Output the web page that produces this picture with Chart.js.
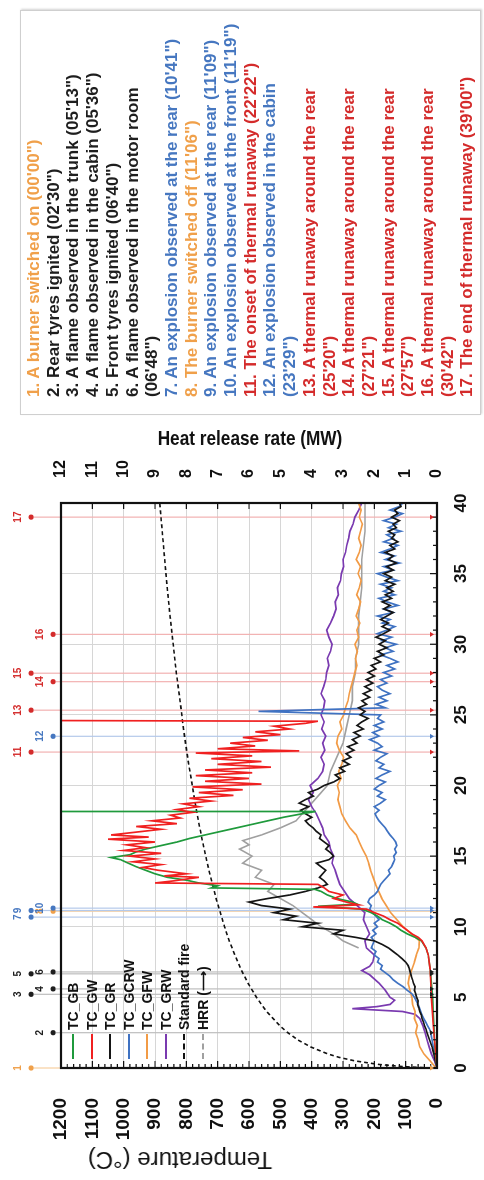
<!DOCTYPE html>
<html>
<head>
<meta charset="utf-8">
<script src="https://cdn.jsdelivr.net/npm/chart.js@4.4.1/dist/chart.umd.min.js"></script>
<style>
html, body { margin:0; padding:0; background:#fff; overflow:hidden; width:484px; height:1180px; }
/* the figure is laid out landscape (1180x484) and turned a quarter left */
#fig { position:absolute; left:0; top:0; width:1180px; height:484px; transform-origin:0 0;
       transform:translateY(1180px) rotate(-90deg); font-family:"Liberation Sans", Arial, sans-serif; }
#c { position:absolute; left:0; top:0; }
.ttl { position:absolute; white-space:nowrap; color:#111; }
#events { position:absolute; left:765px; top:20px; width:405px; height:461px; box-sizing:border-box;
          border:1px solid #cfcfcf; box-shadow:1px 1px 2px rgba(0,0,0,.18); background:#fff;
          padding:3px 0 0 17px; font-weight:bold; font-size:17px; line-height:19.7px; white-space:nowrap; }
#events .o { color:#f0a04a; } #events .k { color:#1e1e1e; }
#events .b { color:#4677c0; } #events .r { color:#d42b2b; }
#legend { position:absolute; left:121px; top:64px; font-weight:bold; font-size:14px; color:#111; }
#legend .row { display:flex; align-items:center; height:18.5px; }
#legend .sw { width:25px; height:0; border-top:2px solid; margin-right:4px; }
</style>
</head>
<body>
<div id="fig">
  <canvas id="c" width="770" height="484"></canvas>
  <div class="ttl" style="left:20px; top:180px; font-size:24px; transform:translate(-50%,-50%) rotate(-90deg);">Temperature (°C)</div>
  <div class="ttl" style="left:742px; top:250px; font-size:21px; font-weight:bold; transform:translate(-50%,-50%) rotate(90deg) scaleX(0.82);">Heat release rate (MW)</div>
  <div id="legend"></div>
  <div id="events">
    <div class="o">1. A burner switched on (00'00")</div>
    <div class="k">2. Rear tyres ignited (02'30")</div>
    <div class="k">3. A flame observed in the trunk (05'13")</div>
    <div class="k">4. A flame observed in the cabin (05'36")</div>
    <div class="k">5. Front tyres ignited (06'40")</div>
    <div class="k">6. A flame observed in the motor room</div>
    <div class="k">(06'48")</div>
    <div class="b">7. An explosion observed at the rear (10'41")</div>
    <div class="o">8. The burner switched off (11'06")</div>
    <div class="b">9. An explosion observed at the rear (11'09")</div>
    <div class="b">10. An explosion observed at the front (11'19")</div>
    <div class="r">11. The onset of thermal runaway (22'22")</div>
    <div class="b">12. An explosion observed in the cabin</div>
    <div class="b">(23'29")</div>
    <div class="r">13. A thermal runaway around the rear</div>
    <div class="r">(25'20")</div>
    <div class="r">14. A thermal runaway around the rear</div>
    <div class="r">(27'21")</div>
    <div class="r">15. A thermal runaway around the rear</div>
    <div class="r">(27'57")</div>
    <div class="r">16. A thermal runaway around the rear</div>
    <div class="r">(30'42")</div>
    <div class="r">17. The end of thermal runaway (39'00")</div>
  </div>
</div>
<script>
// time bases (min)
const minutesH = [
  0,0.5,1,1.5,2,2.5,3,3.5,4,4.5,
  5,5.5,6,6.5,7,7.5,8,8.5,9,9.5,
  10,10.5,11,11.5,12,12.5,13,13.5,14,14.5,
  15,15.5,16,16.5,17,17.5,18,18.5,19,19.5,
  20,20.5,21,21.5,22,22.5,23,23.5,24,24.5,
  25,25.5,26,26.5,27,27.5,28,28.5,29,29.5,
  30,30.5,31,31.5,32,32.5,33,33.5,34,34.5,
  35,35.5,36,36.5,37,37.5,38,38.5,39,39.5,
  40];
const minutesQ = [
  0,0.25,0.5,0.75,1,1.25,1.5,1.75,2,2.25,2.5,2.75,3,3.25,3.5,3.75,4,4.25,4.5,4.75,
  5,5.25,5.5,5.75,6,6.25,6.5,6.75,7,7.25,7.5,7.75,8,8.25,8.5,8.75,9,9.25,9.5,9.75,
  10,10.25,10.5,10.75,11,11.25,11.5,11.75,12,12.25,12.5,12.75,13,13.25,13.5,13.75,14,14.25,14.5,14.75,
  15,15.25,15.5,15.75,16,16.25,16.5,16.75,17,17.25,17.5,17.75,18,18.25,18.5,18.75,19,19.25,19.5,19.75,
  20,20.25,20.5,20.75,21,21.25,21.5,21.75,22,22.25,22.5,22.75,23,23.25,23.5,23.75,24,24.25,24.5,24.75,
  25,25.25,25.5,25.75,26,26.25,26.5,26.75,27,27.25,27.5,27.75,28,28.25,28.5,28.75,29,29.25,29.5,29.75,
  30,30.25,30.5,30.75,31,31.25,31.5,31.75,32,32.25,32.5,32.75,33,33.25,33.5,33.75,34,34.25,34.5,34.75,
  35,35.25,35.5,35.75,36,36.25,36.5,36.75,37,37.25,37.5,37.75,38,38.25,38.5,38.75,39,39.25,39.5,39.75,
  40];

// TC_GB (green) - fails at 18'09"
const gbMinutes = [0,1,2,3,4,5,6,7,8,8.5,9,9.25,9.5,9.75,10,10.25,10.5,10.75,11,11.25,11.45,11.6,11.75,
  12,12.25,12.5,12.65,12.75,12.9,13.1,13.3,13.5,13.75,14,14.25,14.5,14.75,14.9,15.1,15.3,15.5,15.75,
  16,16.25,16.5,16.75,17,17.25,17.5,17.75,18,18.15,18.16];
const gbTemp = [0,5,8,10,12,14,18,22,28,35,50,70,95,115,130,150,175,190,210,240,380,255,270,
  320,350,370,390,720,700,760,800,860,900,930,960,985,1010,1040,980,960,930,880,
  830,790,740,690,640,590,540,490,430,390,1250];

// TC_GW (red) - fails at 24'36"
const gwMinutes = [0,1,2,3,4,5,6,7,8,8.5,9,9.25,9.5,9.75,10,10.25,10.5,10.75,11,11.25,11.4,11.55,11.75,
  12,12.25,12.5,12.75,13,13.1,13.25,13.5,13.6,13.75,14,14.2,14.4,14.6,14.8,15,15.2,15.4,15.6,15.8,
  16,16.2,16.35,16.5,16.7,16.9,17.1,17.3,17.5,17.7,17.9,18.1,18.3,18.5,18.7,18.9,19.1,19.3,19.5,19.7,19.9,
  20.1,20.3,20.5,20.7,20.9,21.1,21.3,21.5,21.7,21.9,22.1,22.3,22.45,22.6,22.8,23,23.2,23.4,23.6,23.8,
  24,24.2,24.4,24.55,24.6];
const gwTemp = [0,4,8,12,15,18,20,22,28,35,48,60,80,95,110,125,150,170,200,225,395,250,290,
  330,300,345,360,380,900,840,760,870,800,890,940,880,970,900,980,880,1000,930,990,
  900,1050,920,1040,960,880,960,830,910,820,850,780,830,760,810,720,790,650,760,620,780,
  560,740,600,770,590,740,530,700,560,720,590,770,440,700,580,660,540,620,500,580,
  470,520,420,380,1250];

// TC_GR (black), quarter-minute readings
const grTemp = [
  0,2,5,8, 10,13,16,20, 24,28,32,35, 40,43,48,50, 55,58,62,60,
  65,68,72,70, 75,78,82,85, 88,92,100,112, 125,140,155,175, 200,260,330,300,
  430,380,490,450, 520,470,560,600, 540,470,420,380, 350,360,375,365, 355,370,385,345,
  330,340,355,345, 360,375,370,385, 395,410,420,400, 420,435,410,440, 420,395,410,380,
  360,330,310,325, 295,310,280,300, 275,290,265,285, 255,270,245,265, 235,255,240,220,
  245,230,250,225, 240,215,235,210, 230,205,225,200, 220,195,210,180, 200,170,190,160,
  185,165,195,170, 150,175,155,180, 160,140,170,150, 175,145,165,140, 160,135,165,145,
  170,140,160,130, 155,140,165,135, 150,125,145,135, 155,130,140,120, 145,125,135,115,
  120];

// TC_GCRW (blue), quarter-minute readings
const gcrwTemp = [
  0,2,4,6, 8,10,12,14, 16,18,20,24, 30,36,42,48, 52,56,60,66,
  72,80,95,108, 125,140,150,165, 180,175,190,185, 200,195,210,205, 200,210,195,205,
  190,200,185,195, 205,215,210,220, 215,200,190,185, 180,170,160,150, 155,145,140,135,
  138,130,135,128, 132,140,150,158, 165,175,185,192, 198,185,200,180, 165,190,175,200,
  185,165,195,175, 150,185,170,195, 180,160,200,175, 190,215,185,205, 175,200,170,190,
  180,570,165,195, 160,185,150,175, 190,160,180,145, 170,135,160,125, 150,180,140,165,
  130,175,145,190, 160,135,175,150, 190,140,170,125, 160,185,135,170, 145,180,125,160,
  190,140,170,120, 165,135,180,150, 125,170,140,160, 115,155,130,170, 135,110,150,120,
  110];

// TC_GFW (orange), half-minute readings
const gfwTemp = [
  3,22,42,55,60,68,63,72,70,78,
  80,86,92,88,80,72,66,58,56,82,
  108,128,148,162,176,186,196,204,212,218,
  226,238,248,258,278,292,304,310,316,312,
  318,306,314,304,298,312,320,316,304,310,
  298,292,284,280,274,268,262,256,260,254,
  262,250,256,246,258,250,244,256,248,242,
  252,244,258,248,242,250,244,238,248,242,
  250];

// TC_GRW (purple)
const grwMinutes = [0,0.5,1,1.5,2,2.5,3,3.5,3.8,4.0,4.2,4.35,4.5,4.8,5,5.5,6,6.3,6.6,6.9,7.2,7.5,
  8,8.5,9,9.5,10,10.5,11,11.5,12,12.5,13,13.5,14,14.5,15,15.5,16,16.5,17,17.5,
  18,18.5,19,19.5,20,20.5,21,21.5,22,22.5,23,23.5,24,24.5,25,25.5,26,26.5,27,27.5,
  28,28.5,29,29.5,30,30.5,31,31.5,32,32.5,33,33.5,34,34.5,35,35.5,36,36.5,37,37.5,
  38,38.5,39,39.5,40];
const grwTemp = [0,8,18,25,32,38,45,55,70,110,270,190,150,135,150,165,185,200,215,240,215,205,
  200,225,230,215,225,235,230,255,280,295,310,318,325,335,330,340,345,360,365,375,
  385,400,410,395,405,380,365,360,370,358,365,355,368,360,370,362,358,370,362,355,
  352,345,350,340,335,345,352,340,330,322,325,315,318,308,305,298,300,292,288,282,
  278,268,262,250,240];

// Standard fire curve
const isoMinutes = [0,0.1,0.25,0.5,0.75,1,1.5,2,2.5,3,4,5,6,7,8,9,10,12,14,16,18,20,22,24,26,28,30,32,34,36,38,40];
const isoTemp = [20,108,185,261,312,349,404,445,476,502,544,576,603,626,645,663,678,705,728,748,766,781,796,809,820,832,842,852,861,869,877,885];

// Heat release rate (MW, right axis)
const hrrMinutes = [8.5,9,9.5,10,10.5,11,11.5,12,12.5,13,13.5,14,14.5,15,15.5,15.8,16.1,16.5,
  17,17.5,18,18.5,19,19.5,20,21,22,23,24,25,26,27,28,29,30,32,34,36,38,40];
const hrrMW = [2.5,3.0,3.3,3.7,4.0,4.3,4.6,5.0,5.4,5.2,5.8,5.6,6.2,5.9,6.3,6.0,6.2,5.6,
  5.0,4.5,4.3,4.1,3.9,3.7,3.5,3.4,3.2,3.0,2.9,2.8,2.7,2.7,2.6,2.6,2.5,2.5,2.4,2.4,2.3,2.3];

// events 1-17
const eventNumbers = [1,2,3,4,5,6,7,8,9,10,11,12,13,14,15,16,17];
const eventMinutes = [0,2.5,5.217,5.6,6.667,6.8,10.683,11.1,11.15,11.317,22.367,23.483,25.333,27.35,27.95,30.7,39];
const eventGroups = ['orange','black','black','black','black','black','blue','orange','blue','blue','red','blue','red','red','red','red','red'];
const groupColor = {orange:'#f0a04a', black:'#1e1e1e', blue:'#4677c0', red:'#d42b2b'};
const groupLight = {orange:'#f7cf9f', black:'#bdbdbd', blue:'#b4c9ea', red:'#f2b1b1'};

function pairs(xs, ys) {
  const n = Math.min(xs.length, ys.length);
  const out = [];
  for (let i = 0; i < n; i++) out.push({x: xs[i], y: ys[i]});
  return out;
}

const series = [
  {label:'TC_GB', t:gbMinutes, v:gbTemp, color:'#1f9a3c'},
  {label:'TC_GW', t:gwMinutes, v:gwTemp, color:'#f02020'},
  {label:'TC_GR', t:minutesQ, v:grTemp, color:'#151515'},
  {label:'TC_GCRW', t:minutesQ, v:gcrwTemp, color:'#3f72c2'},
  {label:'TC_GFW', t:minutesH, v:gfwTemp, color:'#f29b46'},
  {label:'TC_GRW', t:grwMinutes, v:grwTemp, color:'#7a3ab0'}
];

// the legend inside the plot
const legendBox = document.getElementById('legend');
series.concat([{label:'Standard fire', color:'#111', dash:true}, {label:'HRR (\u27F6)', color:'#a0a0a0', dash:true}])
  .forEach(s => {
    const row = document.createElement('div');
    row.className = 'row';
    row.innerHTML = '<span class="sw" style="border-top:2px ' + (s.dash ? 'dashed' : 'solid') + ' ' + s.color + '"></span>' + s.label;
    legendBox.appendChild(row);
  });

// event lines under the curves, markers above the frame
const eventPlugin = {
  id: 'events',
  beforeDatasetsDraw(chart) {
    const {ctx, chartArea: a, scales} = chart;
    ctx.save();
    ctx.lineWidth = 1.2;
    eventMinutes.forEach((m, i) => {
      const px = scales.x.getPixelForValue(m);
      const dotY = eventNumbers[i] % 2 ? a.top - 30 : a.top - 8;
      ctx.strokeStyle = groupLight[eventGroups[i]];
      ctx.beginPath();
      ctx.moveTo(px, dotY);
      ctx.lineTo(px, a.bottom);
      ctx.stroke();
    });
    ctx.restore();
  },
  afterDraw(chart) {
    const {ctx, chartArea: a, scales} = chart;
    ctx.save();
    ctx.font = 'bold 10px "Liberation Sans", Arial, sans-serif';
    ctx.textAlign = 'center';
    ctx.textBaseline = 'middle';
    eventMinutes.forEach((m, i) => {
      const px = scales.x.getPixelForValue(m);
      const outer = eventNumbers[i] % 2 === 1;
      const dotY = outer ? a.top - 30 : a.top - 8;
      const col = groupColor[eventGroups[i]];
      ctx.fillStyle = col;
      ctx.beginPath();
      ctx.arc(px, dotY, 2.6, 0, Math.PI * 2);
      ctx.fill();
      ctx.fillText(String(eventNumbers[i]), px, dotY - 13);
      // small mark at the foot of the plot
      ctx.beginPath();
      ctx.moveTo(px - 2.5, a.bottom - 7);
      ctx.lineTo(px + 2.5, a.bottom - 7);
      ctx.lineTo(px, a.bottom - 3);
      ctx.closePath();
      ctx.fill();
    });
    ctx.restore();
  }
};

// frame and inward ticks
const framePlugin = {
  id: 'frame',
  afterDatasetsDraw(chart) {
    const {ctx, chartArea: a, scales} = chart;
    ctx.save();
    ctx.strokeStyle = '#111';
    ctx.lineWidth = 1.2;
    ctx.beginPath();
    for (let m = 0; m <= 40; m++) {
      const px = scales.x.getPixelForValue(m);
      const len = m % 5 === 0 ? 7 : 4;
      ctx.moveTo(px, a.bottom); ctx.lineTo(px, a.bottom - len);
    }
    for (let T = 0; T <= 1200; T += 20) {
      const py = scales.y.getPixelForValue(T);
      const len = T % 100 === 0 ? 7 : 4;
      ctx.moveTo(a.left, py); ctx.lineTo(a.left + len, py);
    }
    for (let h = 0; h <= 12; h++) {
      const py = scales.y2.getPixelForValue(h);
      ctx.moveTo(a.right, py); ctx.lineTo(a.right - 6, py);
    }
    ctx.stroke();
    ctx.lineWidth = 2.2;
    ctx.strokeRect(a.left, a.top, a.right - a.left, a.bottom - a.top);
    ctx.restore();
  }
};

Chart.defaults.font.family = '"Liberation Sans", Arial, sans-serif';

// red and green are drawn last so they sit on top
const drawOrder = ['TC_GW', 'TC_GB', 'TC_GR', 'TC_GCRW', 'TC_GFW', 'TC_GRW'];
const datasets = drawOrder.map(name => {
  const s = series.find(q => q.label === name);
  return {label: s.label, data: pairs(s.t, s.v), borderColor: s.color, borderWidth: 1.7, yAxisID: 'y'};
});
datasets.push({label:'Standard fire', data: pairs(isoMinutes, isoTemp), borderColor:'#111', borderWidth:1.6, borderDash:[4,3], yAxisID:'y'});
datasets.push({label:'HRR', data: pairs(hrrMinutes, hrrMW), borderColor:'#a0a0a0', borderWidth:1.6, yAxisID:'y2'});

new Chart(document.getElementById('c'), {
  type: 'line',
  data: { datasets: datasets },
  options: {
    responsive: false,
    animation: false,
    devicePixelRatio: 1,
    layout: { padding: { top: 61, left: 0, right: 0, bottom: 0 } },
    elements: { point: { radius: 0 }, line: { tension: 0 } },
    plugins: { legend: { display: false }, tooltip: { enabled: false } },
    scales: {
      x: {
        type: 'linear', min: 0, max: 40,
        ticks: { stepSize: 5, padding: 14, color: '#111', maxRotation: 0, font: { size: 17, weight: 'bold' },
                 callback: v => String(v) },
        grid: { color: '#d6d6d6', drawTicks: false },
        border: { display: false },
        afterFit(s) { s.height = 47; }
      },
      y: {
        position: 'left', min: 0, max: 1200,
        ticks: { stepSize: 100, padding: 30, color: '#111', font: { size: 19, weight: 'bold' },
                 callback: v => String(v) },
        grid: { color: '#d6d6d6', drawTicks: false },
        border: { display: false },
        afterFit(s) { s.width = 112; }
      },
      y2: {
        position: 'right', min: 0, max: 12,
        ticks: { stepSize: 1, padding: 25, color: '#111', font: { size: 16, weight: 'bold' },
                 callback: v => String(v) },
        grid: { display: false, drawTicks: false },
        border: { display: false },
        afterFit(s) { s.width = 93; }
      }
    }
  },
  plugins: [eventPlugin, framePlugin]
});
</script>
</body>
</html>
